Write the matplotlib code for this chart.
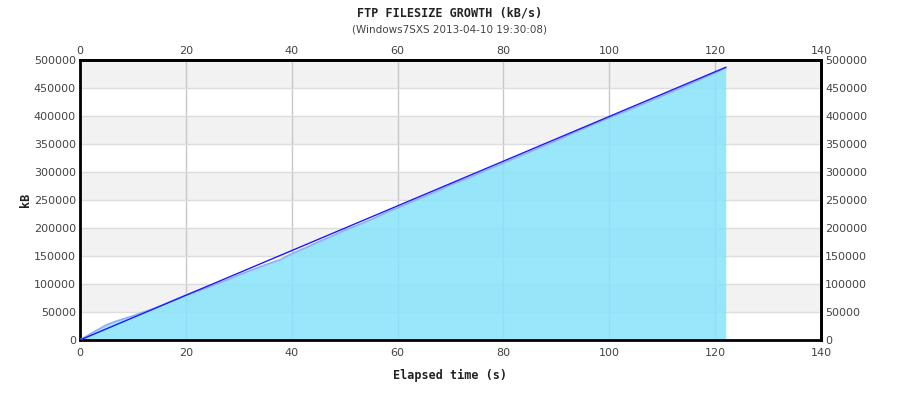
import numpy as np
import matplotlib.pyplot as plt

# Elapsed time (s) and transferred size (kB)
elapsed = [0, 2, 5, 7, 10, 13, 15, 18, 20, 23, 25, 28, 30, 33, 35, 38, 40,
           43, 45, 48, 50, 53, 55, 58, 60, 63, 65, 68, 70, 73, 75, 78, 80,
           83, 85, 88, 90, 93, 95, 98, 100, 103, 105, 108, 110, 113, 115,
           118, 120, 122]
size_kb = [0, 11000, 27000, 34000, 43000, 53000, 60000, 72000, 80000, 90000,
           97000, 108000, 116000, 127000, 134000, 144000, 154000, 166000,
           175000, 187000, 196000, 207000, 215000, 228000, 236000, 248000,
           256000, 268000, 277000, 288000, 296000, 308000, 316000, 328000,
           336000, 348000, 356000, 369000, 377000, 389000, 397000, 408000,
           416000, 428000, 436000, 448000, 456000, 469000, 477000, 486000]

# Linear trend line endpoints
trend_x = [0, 122]
trend_y = [0, 487000]

x_ticks = [0, 20, 40, 60, 80, 100, 120, 140]
y_ticks = [0, 50000, 100000, 150000, 200000, 250000, 300000, 350000, 400000,
           450000, 500000]

fig = plt.figure(figsize=(9, 4), dpi=100)
ax = fig.add_axes([80 / 900, 60 / 400, 741 / 900, 280 / 400])

# alternating background bands
for i in range(len(y_ticks) - 1):
    if i % 2 == 1:
        ax.axhspan(y_ticks[i], y_ticks[i + 1], color='#f2f2f2', zorder=0, lw=0)

ax.grid(axis='y', color='#dddddd', lw=1, zorder=1)
ax.grid(axis='x', color='#c8c8c8', lw=1, zorder=1)

ax.fill_between(elapsed, size_kb, color='#86e3fb', alpha=0.85, zorder=2, lw=0)
ax.plot(elapsed, size_kb, color='#8fb0f5', lw=1.3, zorder=3)
ax.plot(trend_x, trend_y, color='#1a1aff', lw=1, zorder=4)

ax.set_xlim(0, 140)
ax.set_ylim(0, 500000)
ax.set_xticks(x_ticks)
ax.set_yticks(y_ticks)
ax.tick_params(length=0, labelsize=8, labelcolor='#444444', pad=3)
ax.tick_params(axis='x', pad=6)

# mirrored labels on top and right
top = ax.secondary_xaxis('top')
top.set_xticks(x_ticks)
top.tick_params(length=0, labelsize=8, labelcolor='#444444', pad=3)
right = ax.secondary_yaxis('right')
right.set_yticks(y_ticks)
right.tick_params(length=0, labelsize=8, labelcolor='#444444', pad=3)
for s in list(ax.spines.values()) + list(top.spines.values()) + list(right.spines.values()):
    s.set_linewidth(2)
    s.set_color('black')

mono = {'family': 'DejaVu Sans Mono', 'weight': 'bold', 'size': 8.5}
fig.text(0.5, 1 - 13 / 400, 'FTP FILESIZE GROWTH (kB/s)', ha='center',
         va='center', color='#222222', **mono)
fig.text(0.5, 1 - 29 / 400, '(Windows7SXS 2013-04-10 19:30:08)', ha='center',
         va='center', fontsize=7.5, color='#444444')
fig.text(0.5, 1 - 375 / 400, 'Elapsed time (s)', ha='center', va='center',
         color='#222222', **mono)
fig.text(25 / 900, 1 - 200 / 400, 'kB', ha='center', va='center',
         rotation=90, color='#222222', **mono)

fig.savefig('out.png', dpi=100)
